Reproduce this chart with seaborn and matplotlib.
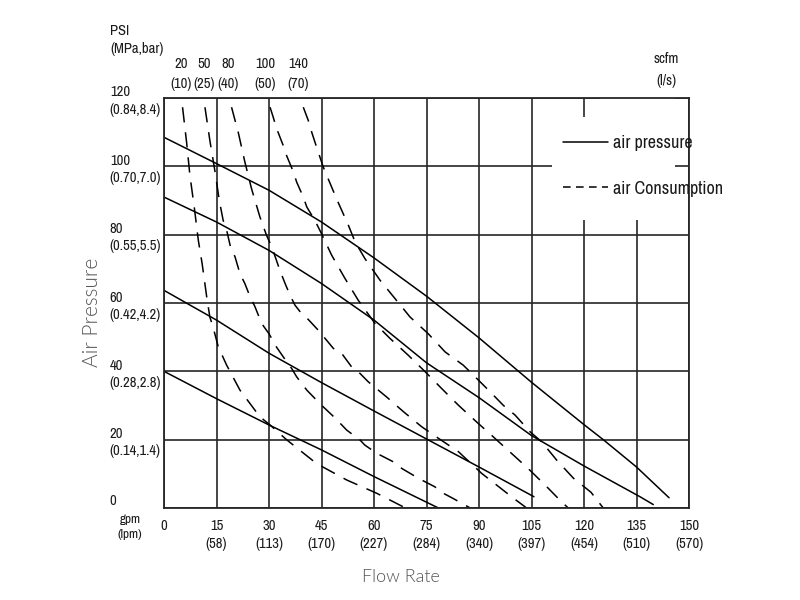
import matplotlib
matplotlib.use("Agg")
import matplotlib.pyplot as plt
import seaborn as sns
import pandas as pd
from matplotlib.lines import Line2D
from matplotlib.patches import Rectangle
from matplotlib import font_manager as fm

# ---------------- data ----------------
x_ticks = [0, 15, 30, 45, 60, 75, 90, 105, 120, 135, 150]
x_tick_labels = ["0", "15\n(58)", "30\n(113)", "45\n(170)", "60\n(227)", "75\n(284)",
                 "90\n(340)", "105\n(397)", "120\n(454)", "135\n(510)", "150\n(570)"]
y_ticks = [0, 20, 40, 60, 80, 100, 120]
y_tick_labels = ["0", "20\n(0.14,1.4)", "40\n(0.28,2.8)", "60\n(0.42,4.2)",
                 "80\n(0.55,5.5)", "100\n(0.70,7.0)", "120\n(0.84,8.4)"]
scfm_labels = ["20\n(10)", "50\n(25)", "80\n(40)", "100\n(50)", "140\n(70)"]
scfm_label_gpm = [5.0, 11.4, 18.4, 28.9, 38.3]

# air pressure curves (gpm -> psi)
p1_gpm = [0, 15, 30, 45, 60, 75, 90, 105, 120, 125.5, 135, 144.3]
p1_psi = [108.5, 100.8, 93, 83.7, 73.2, 62, 49.8, 36.8, 24.4, 20, 12, 3]
p2_gpm = [0, 15, 30, 45, 60, 75, 90, 105, 120, 136, 139.8]
p2_psi = [91, 83.7, 75.4, 65.7, 55, 42.5, 32.3, 21.2, 12.3, 3.3, 1]
p3_gpm = [0, 15, 30, 45, 60, 75, 90, 105.7]
p3_psi = [63.7, 55, 45.3, 36.7, 28.4, 20.2, 12, 3.3]
p4_gpm = [0, 15, 30, 45, 60, 78.4]
p4_psi = [40, 32, 24.3, 17, 9.2, 0]

# air consumption curves (gpm -> psi)
c20_gpm = [5.3, 6.5, 7.4, 8.7, 9.8, 10.9, 12.2, 13.1, 14.0, 15.5, 17.9, 21.7, 27.4, 30.3,
           35.0, 43.6, 52.2, 60.8, 69.0]
c20_psi = [117.3, 106.6, 97.4, 87.6, 78.4, 71.5, 61.8, 55.9, 53.0, 47.2, 41.8, 34.5, 26.7, 24.3,
           20.0, 13.0, 8.2, 4.3, 0]
c50_gpm = [11.7, 13.1, 14.6, 15.8, 16.9, 17.9, 19.0, 20.3, 21.7, 23.1, 24.6, 26.0, 27.9, 30.0,
           32.2, 34.1, 36.5, 37.9, 40.8, 42.7, 45.5, 48.0, 50.8, 52.2, 56.0, 57.4, 60.8, 62.7,
           66.5, 67.9, 71.2, 73.6, 77.4, 78.9, 82.6, 87.5]
c50_psi = [117.3, 107.6, 98.3, 90.0, 84.2, 81.3, 76.4, 73.5, 68.6, 65.7, 61.8, 58.9, 54.0, 51.0,
           47.0, 44.2, 40.8, 38.4, 34.5, 32.5, 29.6, 27.2, 24.3, 22.8, 19.9, 18.4, 16.0, 15.0,
           13.0, 11.6, 9.6, 8.2, 6.2, 4.8, 2.8, 0]
c80_gpm = [19.3, 21.2, 23.1, 25.0, 27.4, 29.3, 30.8, 33.1, 34.6, 36.0, 37.4, 39.3, 41.2, 44.1,
           48.4, 50.8, 53.6, 55.5, 58.4, 63.6, 68.4, 73.6, 78.4, 84.1, 90.8, 99.3, 103.6]
c80_psi = [117.3, 110.0, 101.3, 93.5, 85.2, 79.8, 76.4, 69.6, 65.7, 62.3, 59.4, 56.9, 55.2, 52.0,
           46.7, 45.2, 41.3, 39.9, 36.9, 32.5, 28.2, 23.8, 20.4, 16.5, 10.1, 3.3, 0]
c100_gpm = [30.3, 31.2, 32.2, 34.1, 35.0, 37.0, 37.9, 39.8, 40.8, 43.1, 45.0, 47.9, 51.7, 55.5,
            60.3, 64.6, 69.8, 74.6, 79.3, 84.1, 89.3, 94.0, 104.0, 108.9, 113.6, 115.5]
c100_psi = [117.3, 114.4, 111.0, 106.0, 103.2, 98.3, 95.4, 91.0, 88.1, 84.2, 80.3, 74.0, 67.2, 60.8,
            54.0, 49.6, 44.7, 39.9, 35.0, 30.1, 25.2, 20.9, 11.6, 6.7, 1.8, 0]
c140_gpm = [39.8, 41.2, 42.2, 43.6, 45.5, 49.3, 52.7, 54.6, 57.4, 61.7, 66.0, 70.3, 75.5, 80.3,
            85.5, 88.4, 92.7, 97.0, 100.3, 104.6, 107.9, 112.2, 117.0, 122.0, 125.5]
c140_psi = [117.3, 113.5, 110.0, 105.6, 99.8, 90.5, 82.7, 77.9, 73.0, 66.7, 61.3, 55.9, 51.0, 45.7,
            41.8, 38.9, 34.5, 30.0, 27.2, 22.3, 19.4, 14.0, 8.7, 4.6, 0]

pressure_curves = {"P1": (p1_gpm, p1_psi), "P2": (p2_gpm, p2_psi),
                   "P3": (p3_gpm, p3_psi), "P4": (p4_gpm, p4_psi)}
consumption_curves = {"C20": (c20_gpm, c20_psi), "C50": (c50_gpm, c50_psi),
                      "C80": (c80_gpm, c80_psi), "C100": (c100_gpm, c100_psi),
                      "C140": (c140_gpm, c140_psi)}
legend_labels = ["air pressure", "air Consumption"]

frames = []
for name, (g, p) in pressure_curves.items():
    frames.append(pd.DataFrame({"gpm": g, "psi": p, "curve": name, "kind": legend_labels[0]}))
for name, (g, p) in consumption_curves.items():
    frames.append(pd.DataFrame({"gpm": g, "psi": p, "curve": name, "kind": legend_labels[1]}))
df = pd.concat(frames, ignore_index=True)

# ---------------- style ----------------
sns.set_theme(style="white")
names = {f.name for f in fm.fontManager.ttflist}
if "Archivo Narrow" in names:
    narrow = fm.FontProperties(family=["Archivo Narrow", "DejaVu Sans"], size=10.5)
elif "Liberation Sans Narrow" in names:
    narrow = fm.FontProperties(family=["Liberation Sans Narrow", "DejaVu Sans"], size=10.5)
else:
    narrow = fm.FontProperties(family=["DejaVu Sans"], stretch="condensed", size=9.5)
label_family = ["Lato", "DejaVu Sans"] if "Lato" in names else ["DejaVu Sans"]
plt.rcParams["font.family"] = ["DejaVu Sans"]

ink = "#1a1a1a"
fig = plt.figure(figsize=(8, 6), dpi=100)
ax = fig.add_axes([164 / 800, 92 / 600, 525 / 800, 410 / 600])

sns.lineplot(data=df, x="gpm", y="psi", units="curve", estimator=None, sort=False,
             style="kind", dashes={legend_labels[0]: "", legend_labels[1]: (10, 6.5)},
             color="black", linewidth=1.1, legend=False, ax=ax, zorder=2)

ax.set_xlim(0, 150)
ax.set_ylim(0, 120)
ax.set_xticks(x_ticks, x_tick_labels)
ax.set_yticks(y_ticks, y_tick_labels)
ax.set_axisbelow(True)
ax.grid(True, color="#262626", linewidth=1.2)
for s in ax.spines.values():
    s.set_color("#262626")
    s.set_linewidth(1.3)
    s.set_visible(True)
ax.tick_params(axis="both", length=0, colors=ink)
ax.tick_params(axis="x", pad=8)
ax.tick_params(axis="y", pad=39)
for lbl in ax.get_xticklabels():
    lbl.set_fontproperties(narrow)
    lbl.set_linespacing(1.35)
for i, lbl in enumerate(ax.get_yticklabels()):
    lbl.set_fontproperties(narrow)
    lbl.set_horizontalalignment("left")
    lbl.set_multialignment("left")
    lbl.set_linespacing(1.3)
    if i == 0:
        lbl.set_verticalalignment("bottom")

# white area behind legend (grid broken there)
ax.add_patch(Rectangle((0.7385, 0.702), 0.2345, 0.252, transform=ax.transAxes,
                       facecolor="white", edgecolor="none", zorder=1.5))
ax.add_patch(Rectangle((0.830, 0.954), 0.143, 0.045, transform=ax.transAxes,
                       facecolor="white", edgecolor="none", zorder=1.5))

# scfm labels on top of curves
for g, t in zip(scfm_label_gpm, scfm_labels):
    ax.text(g, 1.059, t, transform=ax.get_xaxis_transform(), ha="center", va="center",
            fontproperties=narrow, color=ink, linespacing=1.5)

fig.text(110 / 800, 1 - 40 / 600, "PSI\n(MPa,bar)", ha="left", va="center",
         fontproperties=narrow, color=ink, linespacing=1.45)
fig.text(666 / 800, 1 - 70 / 600, "scfm\n(l/s)", ha="center", va="center",
         fontproperties=narrow, color=ink, linespacing=1.8)
small = narrow.copy()
small.set_size(9.5)
fig.text(130 / 800, 1 - 527 / 600, "gpm\n(lpm)", ha="center", va="center",
         fontproperties=small, color=ink, linespacing=1.45)

# legend
leg_font = narrow.copy()
leg_font.set_size(13)
handles = [Line2D([], [], color="black", lw=1.1),
           Line2D([], [], color="black", lw=1.1, dashes=(5, 3.5))]
leg = ax.legend(handles, legend_labels, loc="upper left",
                bbox_to_anchor=(563 / 800, 1 - 135 / 600), bbox_transform=fig.transFigure,
                frameon=False, borderpad=0, borderaxespad=0, handlelength=2.5,
                handletextpad=0.25, labelspacing=1.65, prop=leg_font)
for t in leg.get_texts():
    t.set_color(ink)

# axis titles
ax.set_xlabel("Flow Rate", fontsize=13, color="#555555", family=label_family,
              fontweight=300)
ax.xaxis.set_label_coords(0.451, -0.168)
ax.xaxis.label.set_va("center")
ax.set_ylabel("Air Pressure", fontsize=15, color="#555555", family=label_family,
              fontweight=300)
ax.yaxis.set_label_coords(-0.137, 0.478)
ax.yaxis.label.set_va("center")

fig.savefig("out.png", dpi=100, facecolor="white")
